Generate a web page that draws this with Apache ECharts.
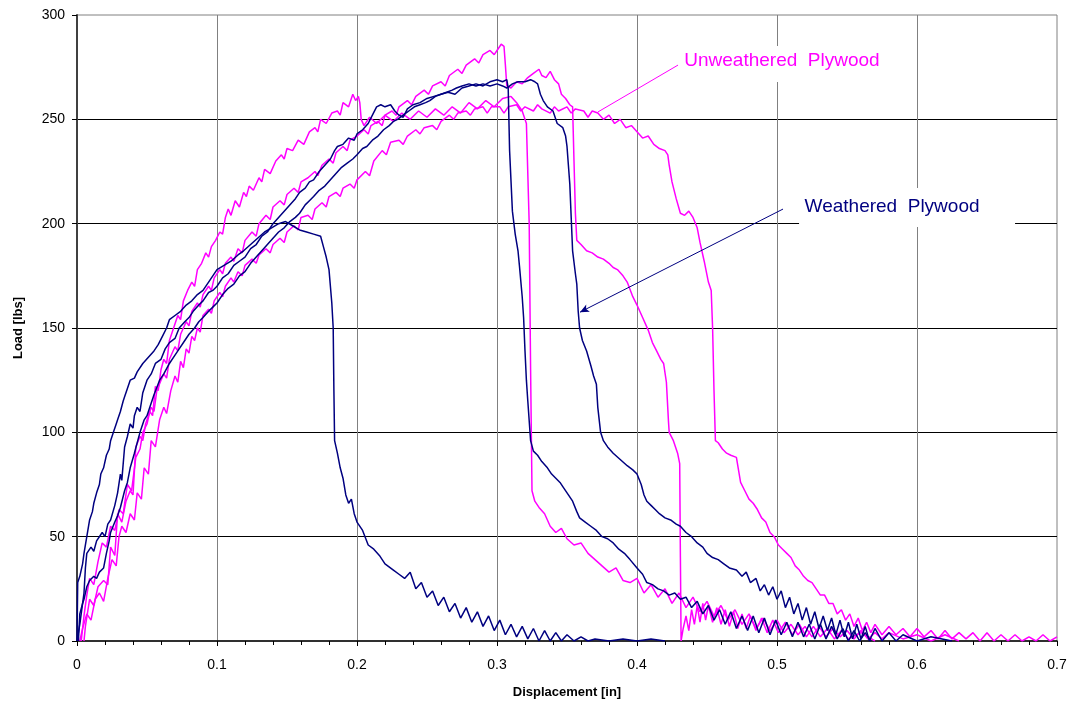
<!DOCTYPE html>
<html>
<head>
<meta charset="utf-8">
<script src="https://cdn.jsdelivr.net/npm/echarts@6/dist/echarts.min.js"></script>
<style>
  html, body { margin: 0; padding: 0; background: #fff; }
  #chart { width: 1072px; height: 704px; }
</style>
</head>
<body>
<div id="chart"></div>
<script>
// unweathered plywood (magenta) - [displacement, load]
let uwA = [[0.003,0],[0.005,12],[0.007,22],[0.009,30],[0.012,27],[0.015,38],[0.018,47],[0.021,45],[0.024,55],[0.027,53],[0.030,63],[0.033,61],[0.036,75],[0.039,72],[0.042,88],[0.045,92],[0.047,100],[0.050,104],[0.052,110],[0.054,108],[0.056,122],[0.058,120],[0.060,130],[0.062,135],[0.064,133],[0.066,144],[0.069,150],[0.072,156],[0.074,154],[0.076,163],[0.079,168],[0.082,172],[0.084,170],[0.086,178],[0.089,181],[0.092,186],[0.094,184],[0.096,189],[0.099,192],[0.102,196],[0.104,195],[0.106,203],[0.108,207],[0.110,204],[0.113,211],[0.116,208],[0.119,215],[0.121,213],[0.123,218],[0.126,216],[0.130,222],[0.132,220],[0.134,226],[0.138,224],[0.142,230],[0.146,233],[0.148,231],[0.150,236],[0.154,235],[0.158,240],[0.162,238],[0.166,244],[0.170,246],[0.172,244],[0.174,250],[0.178,248],[0.182,253],[0.186,254],[0.188,252],[0.190,258],[0.194,256],[0.197,262],[0.199,259],[0.201,261],[0.202,258],[0.203,250],[0.205,247],[0.209,251],[0.214,248],[0.220,252],[0.226,249],[0.232,253],[0.238,250],[0.244,254],[0.250,251],[0.256,255],[0.262,252],[0.268,256],[0.274,253],[0.280,258],[0.286,255],[0.292,259],[0.298,256],[0.304,260],[0.310,261],[0.314,258],[0.318,254],[0.321,248],[0.323,200],[0.324,130],[0.325,72],[0.327,67],[0.330,64],[0.334,61],[0.338,55],[0.342,52],[0.346,54],[0.350,49],[0.355,46],[0.360,47],[0.365,42],[0.370,39],[0.375,36],[0.380,33],[0.385,35],[0.390,29],[0.395,28],[0.400,30],[0.405,23],[0.410,27],[0.415,21],[0.420,25],[0.425,18],[0.430,23],[0.435,16],[0.440,21],[0.445,14],[0.450,19],[0.455,12],[0.460,17],[0.465,10],[0.470,15],[0.475,8],[0.480,13],[0.485,6],[0.490,11],[0.495,5],[0.500,10],[0.505,4],[0.510,8],[0.515,3],[0.520,7],[0.525,2],[0.530,7],[0.535,2],[0.540,6],[0.545,2],[0.550,5],[0.555,1],[0.560,5],[0.565,1],[0.570,4],[0.575,1],[0.580,4],[0.590,1],[0.600,3],[0.610,0],[0.620,3],[0.630,0]];

let uwB = [[0.005,0],[0.006,7],[0.009,20],[0.012,17],[0.015,26],[0.019,29],[0.022,27],[0.024,45],[0.027,41],[0.029,61],[0.032,57],[0.035,67],[0.038,72],[0.040,70],[0.042,93],[0.045,98],[0.047,96],[0.049,104],[0.051,108],[0.053,112],[0.055,110],[0.057,120],[0.060,125],[0.062,128],[0.064,126],[0.066,135],[0.068,138],[0.070,141],[0.072,139],[0.074,147],[0.076,150],[0.078,153],[0.080,151],[0.082,158],[0.086,162],[0.088,160],[0.090,166],[0.094,170],[0.096,168],[0.098,174],[0.102,178],[0.104,176],[0.106,181],[0.110,184],[0.112,182],[0.115,188],[0.118,186],[0.120,192],[0.125,196],[0.128,194],[0.130,200],[0.135,204],[0.138,202],[0.140,208],[0.145,211],[0.148,209],[0.150,214],[0.155,217],[0.158,215],[0.160,220],[0.165,222],[0.170,225],[0.172,223],[0.175,228],[0.180,231],[0.183,229],[0.185,234],[0.190,237],[0.193,235],[0.195,240],[0.200,242],[0.205,245],[0.208,243],[0.210,247],[0.215,249],[0.218,247],[0.220,252],[0.225,254],[0.228,252],[0.230,256],[0.236,259],[0.239,257],[0.242,261],[0.248,264],[0.251,262],[0.254,266],[0.260,268],[0.263,266],[0.266,271],[0.272,274],[0.275,272],[0.278,276],[0.284,279],[0.287,277],[0.290,281],[0.295,283],[0.298,281],[0.300,283],[0.303,286],[0.305,285],[0.306,276],[0.307,266],[0.310,265],[0.314,268],[0.318,267],[0.322,270],[0.326,272],[0.330,274],[0.332,271],[0.335,270],[0.338,273],[0.341,269],[0.344,267],[0.346,262],[0.349,260],[0.352,257],[0.354,256],[0.355,230],[0.356,205],[0.357,192],[0.360,190],[0.364,187],[0.368,186],[0.372,184],[0.376,183],[0.380,181],[0.383,179],[0.386,178],[0.390,175],[0.393,172],[0.397,165],[0.400,161],[0.404,155],[0.408,149],[0.411,143],[0.414,139],[0.417,135],[0.419,133],[0.421,124],[0.4225,105],[0.423,100],[0.426,96],[0.429,90],[0.4305,85],[0.431,40],[0.4315,0],[0.433,6],[0.435,12],[0.437,5],[0.439,15],[0.441,8],[0.443,17],[0.445,9],[0.447,18],[0.449,10],[0.451,17],[0.454,9],[0.457,16],[0.460,8],[0.463,15],[0.466,7],[0.469,14],[0.472,6],[0.475,13],[0.478,6],[0.481,12],[0.485,5],[0.489,11],[0.493,4],[0.497,10],[0.501,4],[0.506,9],[0.511,3],[0.516,8],[0.521,2],[0.526,7],[0.531,2],[0.536,6],[0.541,1],[0.546,5],[0.551,1],[0.560,4],[0.570,0]];

let uwC = [[0.002,0],[0.004,6],[0.007,13],[0.010,10],[0.013,20],[0.016,23],[0.019,19],[0.022,30],[0.025,39],[0.028,36],[0.030,50],[0.032,55],[0.035,52],[0.038,61],[0.041,58],[0.043,71],[0.046,68],[0.048,83],[0.051,80],[0.053,96],[0.056,93],[0.059,106],[0.062,112],[0.064,109],[0.067,120],[0.070,127],[0.072,124],[0.074,134],[0.076,131],[0.078,140],[0.080,138],[0.082,146],[0.084,144],[0.086,150],[0.088,148],[0.090,156],[0.094,159],[0.096,157],[0.098,163],[0.102,167],[0.104,165],[0.106,170],[0.110,174],[0.112,172],[0.115,177],[0.118,175],[0.120,180],[0.125,183],[0.128,181],[0.130,185],[0.135,188],[0.138,186],[0.140,190],[0.145,193],[0.148,191],[0.150,196],[0.155,199],[0.158,197],[0.160,203],[0.165,204],[0.168,202],[0.170,207],[0.175,210],[0.178,208],[0.180,213],[0.185,215],[0.188,213],[0.190,217],[0.195,219],[0.198,217],[0.200,221],[0.206,225],[0.209,223],[0.212,230],[0.218,235],[0.221,233],[0.224,239],[0.230,240],[0.233,238],[0.236,242],[0.242,245],[0.245,243],[0.248,246],[0.254,247],[0.257,245],[0.260,249],[0.266,252],[0.269,250],[0.272,253],[0.278,254],[0.281,252],[0.284,255],[0.290,256],[0.293,253],[0.296,256],[0.302,256],[0.305,253],[0.308,256],[0.314,257],[0.317,254],[0.320,256],[0.326,254],[0.329,257],[0.332,255],[0.338,253],[0.341,256],[0.344,254],[0.350,256],[0.353,253],[0.356,255],[0.362,254],[0.365,251],[0.368,254],[0.372,253],[0.376,250],[0.380,252],[0.384,248],[0.388,250],[0.392,246],[0.396,247],[0.400,244],[0.404,241],[0.408,242],[0.412,238],[0.416,236],[0.420,235],[0.422,233],[0.423,228],[0.425,220],[0.428,212],[0.431,205],[0.434,204],[0.437,206],[0.440,203],[0.443,198],[0.445,191],[0.448,182],[0.451,172],[0.453,168],[0.454,150],[0.455,120],[0.456,96],[0.458,95],[0.461,92],[0.464,90],[0.467,89],[0.471,88],[0.474,76],[0.477,72],[0.480,68],[0.483,66],[0.486,63],[0.489,59],[0.492,57],[0.495,52],[0.498,50],[0.501,46],[0.504,44],[0.507,42],[0.510,40],[0.513,36],[0.516,34],[0.519,31],[0.522,29],[0.525,28],[0.528,25],[0.531,22],[0.534,22],[0.537,18],[0.540,18],[0.543,13],[0.546,15],[0.549,10],[0.552,13],[0.555,7],[0.558,11],[0.561,5],[0.564,9],[0.567,4],[0.570,8],[0.575,3],[0.580,7],[0.585,3],[0.590,6],[0.595,2],[0.600,6],[0.605,2],[0.610,5],[0.615,1],[0.620,5],[0.625,1],[0.630,4],[0.635,1],[0.640,4],[0.645,0],[0.650,4],[0.655,0],[0.660,3],[0.665,0],[0.670,3],[0.675,0],[0.680,2],[0.685,0],[0.690,3],[0.695,0],[0.700,2]];

// weathered plywood (navy)
let wA = [[0,0],[0.0005,28],[0.002,31],[0.004,37],[0.005,42],[0.007,50],[0.009,58],[0.011,62],[0.012,66],[0.014,71],[0.016,75],[0.017,80],[0.019,83],[0.021,89],[0.023,92],[0.024,96],[0.026,100],[0.028,104],[0.029,106],[0.031,110],[0.033,115],[0.034,117],[0.036,121],[0.038,125],[0.041,126],[0.043,129],[0.047,133],[0.051,136],[0.055,139],[0.058,142],[0.061,146],[0.064,150],[0.066,154],[0.070,156],[0.074,158],[0.078,161],[0.082,163],[0.086,166],[0.090,168],[0.094,172],[0.097,175],[0.100,178],[0.105,180],[0.110,182],[0.115,185],[0.119,187],[0.124,190],[0.129,193],[0.134,196],[0.139,198],[0.144,200],[0.149,201],[0.154,199],[0.159,197],[0.164,196],[0.169,195],[0.174,194],[0.176,189],[0.178,184],[0.180,178],[0.182,162],[0.183,150],[0.1835,120],[0.184,96],[0.186,90],[0.188,83],[0.190,78],[0.192,70],[0.194,66],[0.196,68],[0.198,61],[0.200,57],[0.204,53],[0.208,46],[0.212,44],[0.216,41],[0.220,37],[0.226,34],[0.230,32],[0.234,30],[0.238,33],[0.242,25],[0.246,28],[0.250,21],[0.254,24],[0.258,17],[0.262,21],[0.266,14],[0.270,18],[0.274,11],[0.278,16],[0.282,9],[0.286,14],[0.290,7],[0.294,12],[0.298,5],[0.302,10],[0.306,3],[0.310,8],[0.314,2],[0.318,7],[0.322,1],[0.326,6],[0.330,0],[0.334,5],[0.338,0],[0.342,4],[0.346,0],[0.350,3],[0.355,0],[0.360,2],[0.365,0],[0.370,1],[0.380,0],[0.390,1],[0.400,0],[0.410,1],[0.420,0]];

let wB = [[0,0],[0.002,8],[0.004,18],[0.005,23],[0.006,35],[0.007,42],[0.010,45],[0.012,43],[0.014,48],[0.018,52],[0.020,50],[0.022,56],[0.024,58],[0.027,65],[0.029,71],[0.031,80],[0.032,77],[0.034,93],[0.036,98],[0.038,104],[0.040,102],[0.041,108],[0.043,112],[0.045,110],[0.047,119],[0.050,125],[0.053,128],[0.056,133],[0.060,135],[0.063,140],[0.066,143],[0.070,145],[0.073,150],[0.077,153],[0.080,155],[0.083,158],[0.087,161],[0.090,163],[0.094,167],[0.097,168],[0.100,170],[0.104,174],[0.108,176],[0.112,180],[0.116,182],[0.120,184],[0.124,188],[0.128,190],[0.132,194],[0.136,196],[0.140,200],[0.144,203],[0.148,206],[0.152,209],[0.156,212],[0.159,215],[0.163,217],[0.166,220],[0.169,221],[0.173,225],[0.177,228],[0.181,231],[0.184,235],[0.186,237],[0.190,238],[0.194,241],[0.198,240],[0.200,243],[0.204,245],[0.208,248],[0.211,252],[0.214,256],[0.217,257],[0.220,256],[0.224,257],[0.227,254],[0.230,252],[0.233,251],[0.236,255],[0.240,257],[0.245,258],[0.250,260],[0.255,261],[0.260,262],[0.265,263],[0.270,262],[0.275,265],[0.280,266],[0.285,267],[0.290,266],[0.295,268],[0.300,269],[0.304,268],[0.307,269],[0.308,265],[0.309,235],[0.311,206],[0.313,195],[0.315,187],[0.316,180],[0.318,165],[0.319,155],[0.320,139],[0.321,125],[0.322,115],[0.324,96],[0.326,91],[0.329,89],[0.332,86],[0.336,83],[0.339,80],[0.342,78],[0.345,76],[0.347,74],[0.351,70],[0.354,67],[0.357,62],[0.359,59],[0.363,57],[0.367,55],[0.371,53],[0.375,50],[0.379,49],[0.383,47],[0.387,44],[0.391,42],[0.395,39],[0.400,35],[0.404,32],[0.407,28],[0.411,27],[0.415,25],[0.419,24],[0.423,22],[0.427,23],[0.431,20],[0.435,21],[0.439,16],[0.443,19],[0.447,13],[0.451,17],[0.455,10],[0.459,15],[0.463,8],[0.467,14],[0.471,6],[0.475,12],[0.479,5],[0.483,12],[0.487,4],[0.491,11],[0.495,3],[0.499,10],[0.503,3],[0.507,9],[0.511,2],[0.515,9],[0.519,2],[0.523,8],[0.527,1],[0.531,8],[0.535,1],[0.539,7],[0.543,1],[0.547,6],[0.551,0],[0.555,5],[0.559,0],[0.563,4],[0.567,0]];

let wC = [[0.001,0],[0.002,13],[0.004,18],[0.005,20],[0.007,26],[0.009,29],[0.012,31],[0.014,30],[0.016,33],[0.019,35],[0.021,42],[0.023,48],[0.024,52],[0.027,57],[0.029,60],[0.031,64],[0.034,72],[0.036,76],[0.038,83],[0.041,90],[0.043,95],[0.045,100],[0.048,106],[0.050,108],[0.052,112],[0.055,118],[0.059,125],[0.062,128],[0.066,133],[0.070,137],[0.073,140],[0.077,144],[0.080,147],[0.084,150],[0.087,153],[0.090,155],[0.094,158],[0.097,160],[0.100,162],[0.104,166],[0.108,169],[0.112,171],[0.116,175],[0.120,177],[0.124,181],[0.128,184],[0.132,187],[0.136,190],[0.140,193],[0.144,196],[0.148,198],[0.152,201],[0.156,203],[0.159,205],[0.163,209],[0.166,211],[0.169,213],[0.173,216],[0.177,218],[0.181,221],[0.185,224],[0.189,227],[0.193,229],[0.197,231],[0.200,233],[0.204,236],[0.207,237],[0.211,240],[0.215,242],[0.219,245],[0.223,247],[0.226,249],[0.229,250],[0.233,252],[0.237,254],[0.241,256],[0.245,257],[0.249,258],[0.252,259],[0.256,261],[0.260,262],[0.264,263],[0.268,264],[0.271,265],[0.275,266],[0.280,267],[0.285,266],[0.290,267],[0.295,266],[0.300,267],[0.304,266],[0.307,265],[0.311,267],[0.315,268],[0.320,268],[0.324,269],[0.327,268],[0.329,267],[0.331,262],[0.333,259],[0.336,256],[0.340,254],[0.343,248],[0.347,246],[0.349,242],[0.350,237],[0.351,228],[0.352,219],[0.353,203],[0.354,187],[0.356,176],[0.357,171],[0.358,158],[0.359,150],[0.361,144],[0.364,139],[0.367,132],[0.369,127],[0.371,123],[0.372,112],[0.374,100],[0.376,96],[0.379,93],[0.383,90],[0.388,87],[0.393,84],[0.397,82],[0.400,80],[0.403,75],[0.405,70],[0.407,67],[0.410,65],[0.413,63],[0.416,61],[0.420,59],[0.424,58],[0.428,56],[0.431,55],[0.435,52],[0.439,50],[0.443,47],[0.447,45],[0.450,42],[0.454,40],[0.458,39],[0.462,37],[0.466,35],[0.471,34],[0.475,31],[0.478,33],[0.481,28],[0.485,30],[0.488,24],[0.491,27],[0.494,22],[0.497,26],[0.500,20],[0.503,24],[0.506,16],[0.509,21],[0.512,13],[0.515,18],[0.518,10],[0.521,16],[0.524,8],[0.527,14],[0.530,6],[0.533,12],[0.536,5],[0.539,11],[0.542,3],[0.545,10],[0.548,2],[0.551,9],[0.554,1],[0.557,8],[0.560,1],[0.563,7],[0.566,0],[0.570,6],[0.575,0],[0.580,4],[0.585,0],[0.590,3],[0.600,0],[0.610,2],[0.625,0]];

// annotations: [x, y] in data units
let uwLabelAt = [0.5057, 276.5];
let uwPointer = [[0.4293, 276], [0.372, 253.5]];
let wLabelAt = [0.5929, 207.7];
let wPointer = [[0.5043, 207], [0.3593, 157.6]];

let magenta = '#FF00FF';
let navy = '#000080';
let font = 'Liberation Sans, Arial, sans-serif';

let myChart = echarts.init(document.getElementById('chart'));

function curve (data, color, extra) {
    let s = {
        type: 'line',
        data: data,
        showSymbol: false,
        symbol: 'none',
        smooth: false,
        lineStyle: { color: color, width: 1.5 },
        itemStyle: { color: color },
        silent: true
    };
    return Object.assign(s, extra || {});
}

function pointer (pts, color, arrow) {
    return {
        silent: true,
        symbol: ['none', arrow ? 'arrow' : 'none'],
        symbolSize: [6, 9],
        label: { show: false },
        lineStyle: { color: color, width: 1, type: 'solid' },
        data: [[{ coord: pts[0] }, { coord: pts[1] }]]
    };
}

function textBox (at, text, color, size, offset) {
    return {
        silent: true,
        data: [{
            coord: at,
            symbol: 'rect',
            symbolSize: size,
            itemStyle: { color: '#ffffff' },
            label: {
                show: true,
                position: 'inside',
                offset: offset,
                formatter: text,
                color: color,
                fontSize: 19,
                fontFamily: font
            }
        }]
    };
}

let option = {
    animation: false,
    backgroundColor: '#ffffff',
    grid: {
        left: 77,
        right: 15,
        top: 15,
        bottom: 63,
        show: true,
        borderColor: '#808080',
        borderWidth: 1
    },
    xAxis: {
        type: 'value',
        min: 0,
        max: 0.7,
        interval: 0.1,
        name: 'Displacement [in]',
        nameLocation: 'middle',
        nameGap: 45,
        nameTextStyle: { fontFamily: font, fontSize: 13, fontWeight: 'bold', color: '#000' },
        axisLine: { lineStyle: { color: '#000', width: 1.5 } },
        axisTick: { show: true, length: 5, lineStyle: { color: '#000' } },
        minorTick: { show: true, splitNumber: 5, length: 4, lineStyle: { color: '#000' } },
        axisLabel: { fontFamily: font, fontSize: 14, color: '#000', margin: 17 },
        splitLine: { show: true, showMinLine: false, showMaxLine: false, lineStyle: { color: '#808080', width: 1 } }
    },
    yAxis: {
        type: 'value',
        min: 0,
        max: 300,
        interval: 50,
        name: 'Load [lbs]',
        nameLocation: 'middle',
        nameGap: 52,
        nameTextStyle: { fontFamily: font, fontSize: 13, fontWeight: 'bold', color: '#000' },
        axisLine: { show: true, lineStyle: { color: '#404040', width: 2 } },
        axisTick: { show: true, length: 5, lineStyle: { color: '#000' } },
        axisLabel: { fontFamily: font, fontSize: 14, color: '#000', margin: 12 },
        splitLine: { show: true, showMinLine: false, showMaxLine: false, lineStyle: { color: '#000', width: 1 } }
    },
    series: [
        curve(uwA, magenta),
        curve(uwB, magenta),
        curve(uwC, magenta, {
            markLine: pointer(uwPointer, magenta, false),
            markPoint: textBox(uwLabelAt, 'Unweathered  Plywood', magenta, [210, 36], [-3, -3])
        }),
        curve(wA, navy),
        curve(wB, navy),
        curve(wC, navy, {
            markLine: pointer(wPointer, navy, true),
            markPoint: textBox(wLabelAt, 'Weathered  Plywood', navy, [216, 39], [-15, -1])
        })
    ]
};
myChart.setOption(option);

window.addEventListener('resize', function () {
    myChart.resize();
});
</script>
</body>
</html>
